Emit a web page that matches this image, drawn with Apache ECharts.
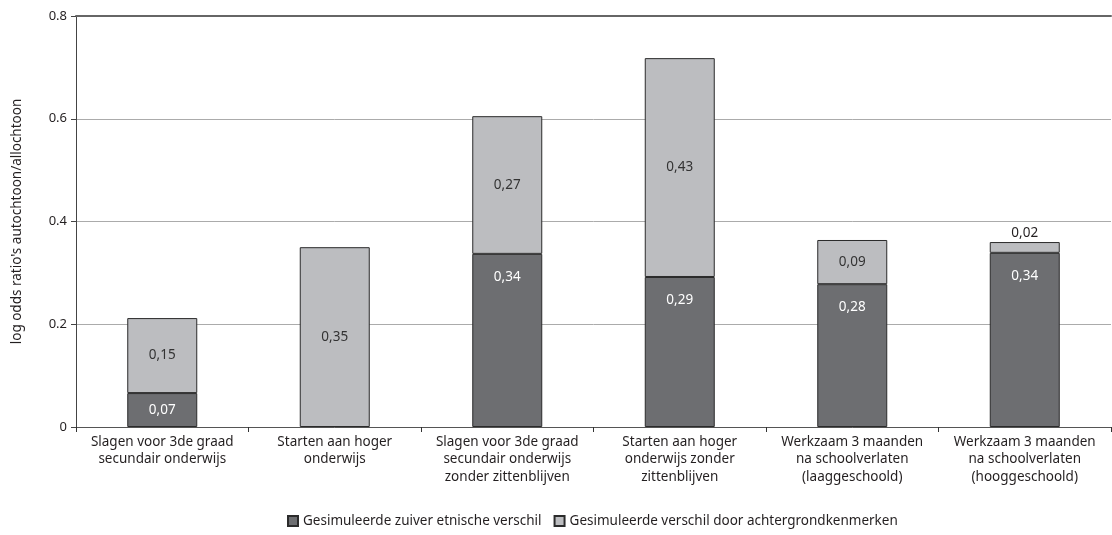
<!DOCTYPE html>
<html>
<head>
<meta charset="utf-8">
<script src="https://cdn.jsdelivr.net/npm/echarts@6/dist/echarts.min.js"></script>
<style>
    html, body { margin: 0; padding: 0; background: #fff; }
    #chart { width: 1112px; height: 535px; }
</style>
</head>
<body>
<div id="chart"></div>
<script>
    // categorieën op de x-as
    var categories = [
        'Slagen voor 3de graad\nsecundair onderwijs',
        'Starten aan hoger\nonderwijs',
        'Slagen voor 3de graad\nsecundair onderwijs\nzonder zittenblijven',
        'Starten aan hoger\nonderwijs zonder\nzittenblijven',
        'Werkzaam 3 maanden\nna schoolverlaten\n(laaggeschoold)',
        'Werkzaam 3 maanden\nna schoolverlaten\n(hooggeschoold)'
    ];
    var seriesNames = ['Gesimuleerde zuiver etnische verschil', 'Gesimuleerde verschil door achtergrondkenmerken'];
    var ethnicValues = [0.066, -0.002, 0.337, 0.292, 0.278, 0.339];
    var backgroundValues = [0.146, 0.35, 0.268, 0.426, 0.086, 0.021];
    var yTicks = [0, 0.2, 0.4, 0.6, 0.8];

    var fontFamily = 'Noto Sans';
    var fontSize = 13.5;
    var textColor = '#231f20';

    function fmt(v) {
        if (Math.abs(v) < 0.01) return '';
        return v.toFixed(2).replace('.', ',');
    }

    // donkere balk: label bovenaan, kleine balk gecentreerd
    var ethnicData = ethnicValues.map(function (v) {
        var item = { value: v };
        if (v < 0.1) item.label = { position: 'inside' };
        return item;
    });
    // lichte balk: label in het midden, te klein -> erboven
    var backgroundData = backgroundValues.map(function (v) {
        var item = { value: v };
        if (v < 0.04) item.label = { position: 'top', distance: 2, color: textColor };
        return item;
    });

    var myChart = echarts.init(document.getElementById('chart'));
    var option = {
        animation: false,
        textStyle: { fontFamily: fontFamily, color: textColor },
        grid: { left: 76, right: 1, top: 16, bottom: 108, containLabel: false },
        legend: {
            bottom: 2,
            left: 282,
            icon: 'rect',
            itemWidth: 10,
            itemHeight: 10,
            itemGap: 12,
            textStyle: { fontSize: fontSize, color: textColor, fontFamily: fontFamily },
            data: seriesNames
        },
        xAxis: [{
            type: 'category',
            data: categories,
            axisLine: { lineStyle: { color: '#555', width: 1 } },
            axisTick: { show: true, length: 5, lineStyle: { color: '#333' } },
            axisLabel: {
                color: textColor,
                fontSize: fontSize,
                lineHeight: 17.5,
                margin: 6,
                interval: 0,
                fontFamily: fontFamily
            }
        }, {
            type: 'category',
            position: 'top',
            data: categories,
            axisLine: { show: true, lineStyle: { color: '#666', width: 2 } },
            axisTick: { show: false },
            axisLabel: { show: false }
        }],
        yAxis: {
            type: 'value',
            min: 0,
            max: 0.8,
            interval: 0.2,
            name: "log odds ratio's autochtoon/allochtoon",
            nameLocation: 'middle',
            nameGap: 52,
            nameTextStyle: { fontSize: fontSize, color: textColor, fontFamily: fontFamily },
            axisLine: { show: true, lineStyle: { color: '#444' } },
            axisTick: { show: true, length: 5, lineStyle: { color: '#444' } },
            axisLabel: {
                color: textColor,
                fontSize: 13,
                margin: 9,
                fontFamily: fontFamily,
                formatter: function (v) {
                    var i = yTicks.indexOf(Math.round(v * 10) / 10);
                    return i === 0 ? '0' : yTicks[i].toFixed(1);
                }
            },
            splitLine: { show: true, lineStyle: { color: '#ababab', width: 1 } }
        },
        series: [{
            name: seriesNames[0],
            type: 'bar',
            stack: 'totaal',
            barWidth: 70,
            data: ethnicData,
            itemStyle: { color: '#6d6e71', borderColor: '#2b2b2b', borderWidth: 1 },
            label: {
                show: true,
                position: 'insideTop',
                distance: 16,
                color: '#ffffff',
                fontSize: fontSize,
                fontFamily: fontFamily,
                formatter: function (p) { return fmt(p.value); }
            }
        }, {
            name: seriesNames[1],
            type: 'bar',
            stack: 'totaal',
            barWidth: 70,
            data: backgroundData,
            itemStyle: { color: '#bcbdc0', borderColor: '#2b2b2b', borderWidth: 1 },
            label: {
                show: true,
                position: 'inside',
                color: '#333333',
                fontSize: fontSize,
                fontFamily: fontFamily,
                formatter: function (p) { return fmt(p.value); }
            }
        }]
    };
    myChart.setOption(option);
</script>
</body>
</html>
